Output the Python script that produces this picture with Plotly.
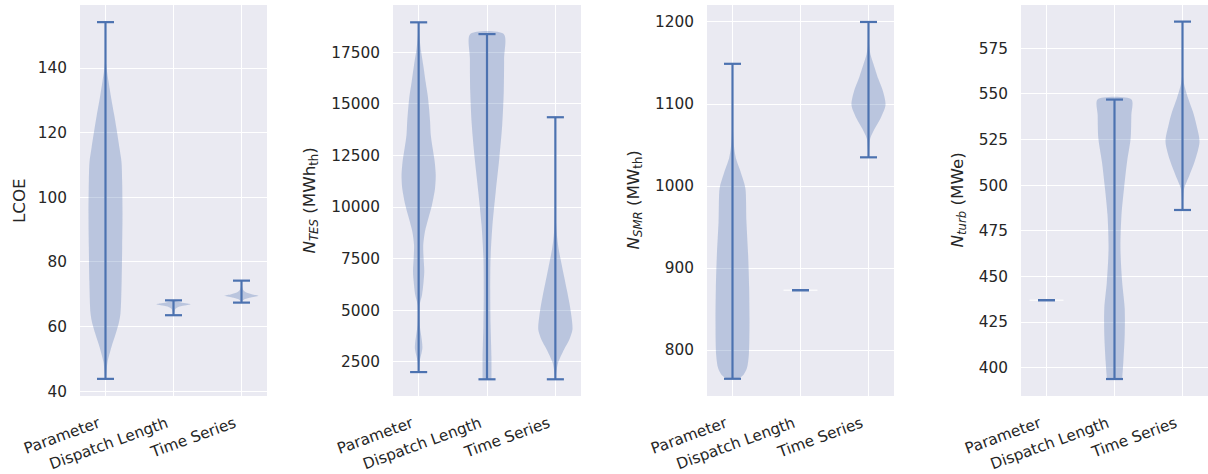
import plotly.graph_objects as go

categories = ["Parameter", "Dispatch Length", "Time Series"]
positions = [1, 2, 3]

# ---- LCOE ----
lcoe_param_y = [43.8, 49, 53.7, 57.8, 61, 64, 74, 84.5, 95, 105, 111, 115.3, 120.4, 125.5, 130.8, 135.8, 140.9, 147, 154.2]
lcoe_param_w = [0.0, 0.12, 0.35, 0.6, 0.78, 0.88, 0.95, 0.98, 1.0, 0.98, 0.94, 0.82, 0.67, 0.51, 0.33, 0.18, 0.04, 0.01, 0.0]
lcoe_disp_y = [63.5, 64.5, 65.5, 66.2, 66.6, 66.9, 67.2, 67.6, 67.9, 68.1]
lcoe_disp_w = [0.02, 0.05, 0.12, 0.35, 0.75, 1.0, 0.7, 0.3, 0.1, 0.03]
lcoe_time_y = [67.4, 67.9, 68.5, 69.0, 69.5, 70.0, 70.6, 71.3, 72.2, 73.2, 74.2]
lcoe_time_w = [0.02, 0.05, 0.2, 0.55, 1.0, 0.6, 0.25, 0.1, 0.04, 0.02, 0.0]

# ---- N_TES ----
tes_param_y = [2000, 2524, 3172, 3815, 4299, 4783, 5266, 5750, 6395, 6878, 7524, 8167, 8811, 9456,
               10101, 10909, 11552, 12195, 12843, 13487, 14130, 14778, 15421, 16064, 16871, 17679, 18322, 18950]
tes_param_w = [0.0, 0.06, 0.22, 0.14, 0.06, 0.04, 0.06, 0.2, 0.29, 0.33, 0.29, 0.27, 0.37, 0.57,
               0.78, 0.96, 1.0, 0.94, 0.82, 0.71, 0.67, 0.61, 0.53, 0.41, 0.27, 0.12, 0.04, 0.0]
tes_disp_y = [1650, 2688, 4299, 5909, 7524, 9134, 10744, 12359, 13970, 15580, 17195, 18380]
tes_disp_w = [0.26, 0.26, 0.21, 0.19, 0.21, 0.32, 0.51, 0.72, 0.89, 0.98, 1.0, 0.98]
tes_time_y = [1650, 1900, 2446, 3089, 3573, 4057, 4700, 5345, 5990, 6634, 7282, 7925, 8570, 9214, 9859, 11500, 14350]
tes_time_w = [0.0, 0.04, 0.16, 0.51, 0.82, 1.0, 0.94, 0.82, 0.67, 0.51, 0.35, 0.2, 0.1, 0.04, 0.02, 0.0, 0.0]

# ---- N_SMR ----
smr_param_y = [765, 770, 778, 794, 834.5, 875, 916, 956.5, 997, 1009, 1021.5, 1034, 1046, 1062, 1078, 1110, 1149]
smr_param_w = [0.35, 0.65, 0.85, 0.96, 1.0, 0.98, 0.92, 0.82, 0.76, 0.61, 0.41, 0.2, 0.1, 0.04, 0.02, 0.0, 0.0]
smr_disp_y = [873, 873]
smr_disp_w = [1.0, 1.0]
smr_time_y = [1035, 1046, 1058, 1070, 1082.6, 1098.8, 1115, 1131, 1147.6, 1160, 1172, 1200]
smr_time_w = [0.0, 0.04, 0.1, 0.37, 0.71, 1.0, 0.86, 0.57, 0.31, 0.12, 0.04, 0.0]

# ---- N_turb ----
turb_param_y = [437, 437]
turb_param_w = [1.0, 1.0]
turb_disp_y = [393.8, 403.2, 417.9, 432.5, 447, 465.4, 483.6, 498.2, 512.8, 525.7, 538.4, 546.9]
turb_disp_w = [0.45, 0.52, 0.6, 0.6, 0.45, 0.35, 0.41, 0.56, 0.74, 0.95, 0.99, 1.0]
turb_time_y = [486.4, 492.8, 498.3, 505.5, 512.8, 523.8, 533, 540.3, 547.6, 555, 560.4, 589.6]
turb_time_w = [0.0, 0.04, 0.1, 0.41, 0.71, 1.0, 0.82, 0.61, 0.33, 0.1, 0.02, 0.0]

panels = [
    dict(ys=[lcoe_param_y, lcoe_disp_y, lcoe_time_y], ws=[lcoe_param_w, lcoe_disp_w, lcoe_time_w]),
    dict(ys=[tes_param_y, tes_disp_y, tes_time_y], ws=[tes_param_w, tes_disp_w, tes_time_w]),
    dict(ys=[smr_param_y, smr_disp_y, smr_time_y], ws=[smr_param_w, smr_disp_w, smr_time_w]),
    dict(ys=[turb_param_y, turb_disp_y, turb_time_y], ws=[turb_param_w, turb_disp_w, turb_time_w]),
]

y_titles = [
    "LCOE",
    "<i>N<sub>TES</sub></i> (MWh<sub>th</sub>)",
    "<i>N<sub>SMR</sub></i> (MW<sub>th</sub>)",
    "<i>N<sub>turb</sub></i> (MWe)",
]
y_ranges = [[38.5, 159.5], [840, 19790], [744, 1220.7], [384.5, 598.7]]
y_dticks = [20, 2500, 100, 25]
y_tick0 = [40, 2500, 800, 400]

# layout geometry (pixels in 1208x474 figure)
W, H = 1208, 474
x_domains_px = [(80, 267), (393, 581), (707, 894), (1021, 1208)]
title_x_px = [18.5, 310, 634, 958]

BLUE = "#4C72B0"
BODY = "rgba(76,114,176,0.3)"
HALF = 0.25   # max half-width of a violin body (category units)
CAP = 0.125   # half-length of the extrema caps
TICK_FS = 15.3
TITLE_FS = 16.7

fig = go.Figure()

for i, p in enumerate(panels):
    xa = "x" if i == 0 else f"x{i+1}"
    ya = "y" if i == 0 else f"y{i+1}"
    for pos, ys, ws in zip(positions, p["ys"], p["ws"]):
        lo, hi = min(ys), max(ys)
        if lo == hi:
            fig.add_trace(go.Scatter(
                x=[pos - HALF * ws[0], pos + HALF * ws[0]], y=[lo, lo],
                mode="lines", line=dict(color="rgba(255,255,255,0.7)", width=1.5),
                xaxis=xa, yaxis=ya, showlegend=False, hoverinfo="skip"))
        else:
            xs = [pos + HALF * w for w in ws] + [pos - HALF * w for w in reversed(ws)]
            yy = list(ys) + list(reversed(ys))
            fig.add_trace(go.Scatter(
                x=xs, y=yy, mode="lines", fill="toself", fillcolor=BODY,
                line=dict(width=0, color=BODY, shape="spline", smoothing=0.8),
                xaxis=xa, yaxis=ya, showlegend=False, hoverinfo="skip"))
        fig.add_trace(go.Scatter(
            x=[pos, pos, None, pos - CAP, pos + CAP, None, pos - CAP, pos + CAP],
            y=[lo, hi, None, lo, lo, None, hi, hi],
            mode="lines", line=dict(color=BLUE, width=2.2),
            xaxis=xa, yaxis=ya, showlegend=False, hoverinfo="skip"))

font_col = "#262626"
layout = dict(
    width=W, height=H,
    margin=dict(l=0, r=0, t=5, b=78),
    paper_bgcolor="white", plot_bgcolor="#EAEAF2",
    font=dict(family="DejaVu Sans", color=font_col, size=TICK_FS),
    showlegend=False,
)
annotations = []
for i in range(4):
    xk = "xaxis" if i == 0 else f"xaxis{i+1}"
    yk = "yaxis" if i == 0 else f"yaxis{i+1}"
    x0, x1 = x_domains_px[i]
    layout[xk] = dict(
        domain=[x0 / W, x1 / W], range=[0.625, 3.375],
        tickmode="array", tickvals=positions, ticktext=categories,
        tickangle=-20, showgrid=True, gridcolor="white", gridwidth=1.4,
        zeroline=False, showline=False, ticks="", automargin=False,
        ticklabelstandoff=15, ticklabelshift=-7,
        tickfont=dict(size=TICK_FS, color=font_col),
        anchor="y" if i == 0 else f"y{i+1}", fixedrange=True)
    layout[yk] = dict(
        domain=[0, 1], range=y_ranges[i], tick0=y_tick0[i], dtick=y_dticks[i],
        tickformat="d",
        showgrid=True, gridcolor="white", gridwidth=1.4,
        zeroline=False, showline=False, ticks="", automargin=False,
        ticklabelstandoff=12, tickfont=dict(size=TICK_FS, color=font_col),
        anchor="x" if i == 0 else f"x{i+1}", fixedrange=True)
    annotations.append(dict(
        text=y_titles[i], x=title_x_px[i] / W, y=0.5, xref="paper", yref="paper",
        xanchor="center", yanchor="middle", textangle=-90, showarrow=False,
        font=dict(size=TITLE_FS, color=font_col, family="DejaVu Sans")))
layout["annotations"] = annotations
fig.update_layout(**layout)

fig.write_html("out.html")
